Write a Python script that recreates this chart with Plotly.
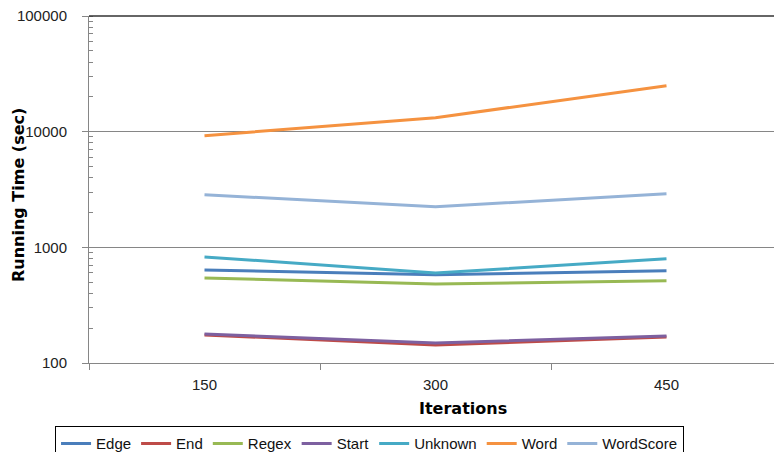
import plotly.graph_objects as go

iterations = ["150", "300", "450"]
series_names = ["Edge", "End", "Regex", "Start", "Unknown", "Word", "WordScore"]
edge = [638, 578, 626]
end = [175, 143, 168]
regex = [544, 483, 513]
start = [178, 149, 171]
unknown = [827, 601, 795]
word = [9230, 13200, 25000]
wordscore = [2848, 2243, 2904]
values = [edge, end, regex, start, unknown, word, wordscore]
colors = ["#4A7EBB", "#BE4B48", "#98B954", "#7D60A0", "#46AAC5", "#F59240", "#95B3D7"]
ytick_vals = [100, 1000, 10000, 100000]
ytick_text = ["100", "1000", "10000", "100000"]

fig = go.Figure()
for name, vals, col in zip(series_names, values, colors):
    fig.add_trace(go.Scatter(x=iterations, y=vals, name=name, mode="lines",
                             line=dict(color=col, width=3)))

# page body has an 8px margin, so the figure is drawn 8px smaller and offset
W, H = 774, 444
L, R, T, B = 81, 0, 8, 89
fig.update_layout(
    width=W, height=H,
    margin=dict(l=L, r=R, t=T, b=B, autoexpand=False),
    plot_bgcolor="white", paper_bgcolor="white",
    font=dict(family="Liberation Sans, Arial, sans-serif", size=15, color="#222"),
    showlegend=True,
    legend=dict(orientation="h", x=-0.049, y=-0.182, xanchor="left", yanchor="top",
                bordercolor="#000", borderwidth=1, bgcolor="white",
                font=dict(family="Liberation Sans Narrow, Arial Narrow, Liberation Sans, sans-serif", size=15, color="#111"),
                itemwidth=30, tracegroupgap=0),
)
fig.update_xaxes(type="category", range=[-0.5, 2.5], tickson="boundaries",
                 ticks="outside", ticklen=6, tickcolor="#868686",
                 showline=True, linecolor="#868686", linewidth=1,
                 showgrid=False, tickfont=dict(size=15), automargin=False,
                 ticklabelstandoff=8)
fig.update_yaxes(type="log", range=[2, 5], tickvals=ytick_vals, ticktext=ytick_text,
                 ticks="outside", ticklen=6, tickcolor="#868686",
                 showline=True, linecolor="#868686", linewidth=1,
                 showgrid=True, gridcolor="#868686", gridwidth=1,
                 minor=dict(ticks="inside", ticklen=4, tickcolor="#868686", dtick="D1", showgrid=False),
                 tickfont=dict(size=15), automargin=False, ticklabelstandoff=12,
                 ticklabeloverflow="allow")
fig.add_shape(type="line", xref="paper", yref="paper", x0=0, x1=1, y0=1, y1=1,
              line=dict(color="#333", width=1.5))
fig.add_annotation(text="<b>Iterations</b>", xref="paper", yref="paper",
                   x=0.539, y=-0.13, xanchor="center", yanchor="middle", showarrow=False,
                   font=dict(family="DejaVu Sans, sans-serif", size=16, color="#000"))
fig.add_annotation(text="<b>Running Time (sec)</b>", xref="paper", yref="paper",
                   x=-0.102, y=0.485, xanchor="center", yanchor="middle", showarrow=False,
                   textangle=-90,
                   font=dict(family="DejaVu Sans, sans-serif", size=16, color="#000"))

fig.write_html("out.html")
